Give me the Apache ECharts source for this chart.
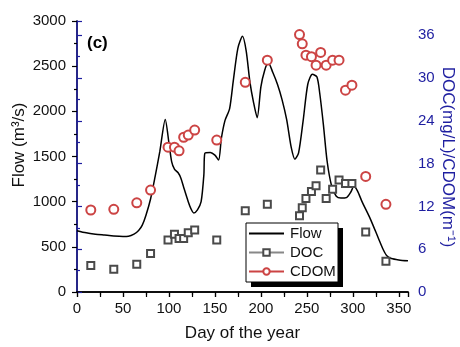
<!DOCTYPE html>
<html>
<head>
<meta charset="utf-8">
<script src="https://cdn.jsdelivr.net/npm/echarts@6/dist/echarts.min.js"></script>
<style>
  html, body { margin: 0; padding: 0; background: #fff; }
  #chart_c { width: 460px; height: 347px; }
</style>
</head>
<body>
<div id="chart_c"></div>
<script>
// flow hydrograph (day, m3/s)
var flowDays = [0, 10, 20, 30, 40, 50, 56, 62, 67, 71, 75, 80, 85, 90, 96, 100, 103, 106, 110, 113, 116, 121, 124, 127, 131, 135, 138, 139, 145, 150, 154, 157, 161, 166, 170, 175, 180, 184, 188, 192, 196, 200, 204, 208, 213, 218, 223, 228, 233, 237, 241, 246, 251, 256, 261, 264, 268, 272, 277, 282, 287, 293, 298, 301, 305, 310, 319, 328, 333, 337, 342, 350, 360];
var flowValues = [679, 655, 640, 630, 620, 615, 617, 640, 680, 740, 850, 1030, 1280, 1550, 1910, 1650, 1440, 1360, 1320, 1260, 1160, 1000, 920, 875, 910, 1000, 1300, 1535, 1545, 1515, 1460, 1700, 1900, 2030, 2340, 2700, 2830, 2670, 2330, 2100, 1930, 2270, 2450, 2540, 2430, 2300, 2130, 1910, 1600, 1470, 1540, 1900, 2300, 2410, 2380, 2200, 1850, 1450, 1170, 1060, 1040, 1045, 1110, 1170, 1120, 1000, 810, 590, 470, 400, 370, 355, 345];

// sampling days, DOC (mg/L) and CDOM (m-1)
var sampleDays = [15, 40, 65, 80, 99, 106, 111, 116, 121, 128, 152, 183, 207, 242, 245, 249, 255, 260, 265, 271, 278, 285, 292, 299, 314, 336];
var docValues = [3.7, 3.2, 3.9, 5.4, 7.3, 8.1, 7.5, 7.5, 8.3, 8.7, 7.3, 11.4, 12.3, 10.7, 11.8, 13.1, 14.1, 14.9, 17.1, 13.1, 14.4, 15.7, 15.2, 15.2, 8.4, 4.3];
var cdomValues = [11.5, 11.6, 12.5, 14.3, 20.3, 20.3, 19.8, 21.7, 22.0, 22.7, 21.3, 29.4, 32.5, 36.1, 34.8, 33.2, 33.0, 31.8, 33.6, 31.8, 32.5, 32.5, 28.3, 29.0, 16.2, 12.3];

function pairs(xs, ys) {
    return xs.map(function (x, i) { return [x, ys[i]]; });
}

var myChart = echarts.init(document.getElementById('chart_c'));
var font = 'Liberation Sans, Arial, sans-serif';
var blue = '#1e1ea0';
var red = '#cc4444';

var option = {
    animation: false,
    textStyle: { fontFamily: font },
    grid: { left: 77, right: 52, top: 21, bottom: 55, containLabel: false },
    legend: {
        orient: 'vertical',
        left: 246,
        top: 223,
        padding: [3, 3, 3, 2],
        itemWidth: 35,
        itemHeight: 8,
        itemGap: 4,
        z: 20,
        textStyle: { fontSize: 15, color: '#111', fontFamily: font, padding: [0, 0, 0, 1] },
        data: [
            { name: 'Flow', itemStyle: { opacity: 0 } },
            { name: 'DOC', lineStyle: { color: '#888', width: 2, opacity: 1 } },
            { name: 'CDOM', lineStyle: { color: red, width: 2, opacity: 1 } }
        ]
    },
    graphic: [
        { type: 'rect', z: 15, shape: { x: 251, y: 228, width: 92, height: 59 }, style: { fill: '#000' } },
        { type: 'rect', z: 16, shape: { x: 246, y: 223, width: 92, height: 59 }, style: { fill: '#fff', stroke: '#000', lineWidth: 1 } },
        { type: 'text', x: 87, y: 43, style: { text: '(c)', font: 'bold 17px ' + font, fill: '#000', verticalAlign: 'middle' } },
        { type: 'text', x: 19, y: 145, rotation: Math.PI / 2, style: { text: 'Flow (m³/s)', font: '17px ' + font, fill: '#111', align: 'center', verticalAlign: 'middle' } },
        { type: 'text', x: 448, y: 157, rotation: -Math.PI / 2, style: { text: 'DOC(mg/L)/CDOM(m⁻¹)', font: '17px ' + font, fill: blue, align: 'center', verticalAlign: 'middle' } }
    ],
    xAxis: [
        {
            type: 'value', min: 0, max: 360, interval: 50, position: 'bottom',
            name: 'Day of the year', nameLocation: 'middle', nameGap: 33,
            nameTextStyle: { fontSize: 17, color: '#111' },
            axisLine: { lineStyle: { color: '#000', width: 1.5 } },
            axisTick: { inside: false, length: 5, lineStyle: { color: '#000', width: 1.2 } },
            minorTick: { show: true, splitNumber: 2, length: 3, lineStyle: { color: '#000', width: 1.2 } },
            axisLabel: { fontSize: 15, color: '#111', margin: 9, showMaxLabel: false },
            splitLine: { show: false }
        },
        {
            type: 'value', min: 0, max: 360, interval: 25, position: 'top',
            axisLine: { show: true, lineStyle: { color: '#000', width: 1.5 } },
            axisTick: { show: true, inside: true, length: 5, lineStyle: { color: '#000', width: 1.2 } },
            axisLabel: { show: false },
            splitLine: { show: false }
        }
    ],
    yAxis: [
        {
            type: 'value', min: 0, max: 3000, interval: 500, position: 'left',
            axisLine: { show: true, lineStyle: { color: '#000', width: 1.5 } },
            axisTick: { show: true, inside: false, length: 5, lineStyle: { color: '#000', width: 1.2 } },
            minorTick: { show: true, splitNumber: 2, length: 3, lineStyle: { color: '#000', width: 1.2 } },
            axisLabel: { fontSize: 15, color: '#111', margin: 11, formatter: function (v) { return String(v); } },
            splitLine: { show: false }
        },
        {
            type: 'value', min: 0, max: 38, interval: 6, position: 'right',
            axisLine: { show: true, lineStyle: { color: blue, width: 1.5 } },
            axisTick: { show: true, inside: false, length: 5, lineStyle: { color: blue, width: 1.2 } },
            minorTick: { show: true, splitNumber: 2, length: 3, lineStyle: { color: blue, width: 1.2 } },
            axisLabel: { fontSize: 15, color: blue, margin: 10, showMaxLabel: false },
            splitLine: { show: false }
        }
    ],
    series: [
        {
            name: 'Flow', type: 'line', xAxisIndex: 0, yAxisIndex: 0,
            smooth: 0.25, symbol: 'none',
            lineStyle: { color: '#000', width: 1.5 },
            itemStyle: { color: '#000' },
            data: pairs(flowDays, flowValues),
            z: 3
        },
        {
            name: 'DOC', type: 'line', xAxisIndex: 0, yAxisIndex: 1,
            symbol: 'emptyRect', symbolSize: 7,
            lineStyle: { opacity: 0 },
            itemStyle: { color: '#4a4a4a', borderWidth: 1.2 },
            data: pairs(sampleDays, docValues),
            z: 4
        },
        {
            name: 'CDOM', type: 'line', xAxisIndex: 0, yAxisIndex: 1,
            symbol: 'emptyCircle', symbolSize: 9,
            lineStyle: { opacity: 0 },
            itemStyle: { color: red, borderWidth: 1.2 },
            data: pairs(sampleDays, cdomValues),
            z: 4
        }
    ]
};

myChart.setOption(option);
</script>
</body>
</html>
